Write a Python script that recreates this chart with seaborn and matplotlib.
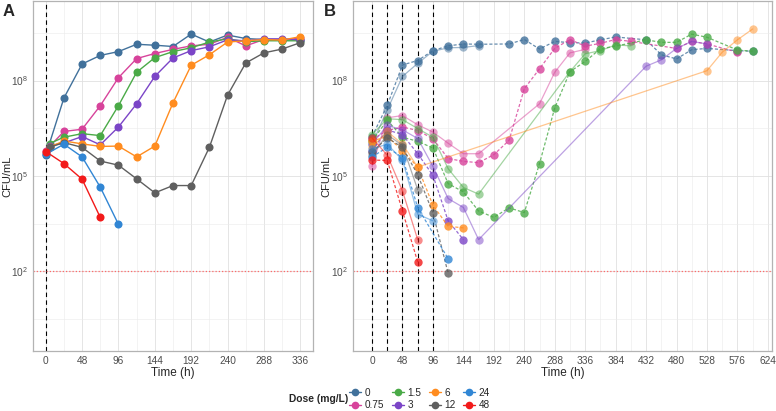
import numpy as np
import matplotlib
matplotlib.use("Agg")
import matplotlib.pyplot as plt
import seaborn as sns
from matplotlib.lines import Line2D
from matplotlib.ticker import FixedLocator, NullFormatter

# =========================
# DATA (log10 CFU/mL)
# =========================
doses = ['0', '0.75', '1.5', '3', '6', '12', '24', '48']
colors = ['#41719B', '#D7439B', '#4AAA47', '#7B45C7', '#FF8C1F', '#5F5F5F', '#3186D4', '#F21A1A']

# Panel A - single dose
a_time_full = [0, 24, 48, 72, 96, 120, 144, 168, 192, 216, 240, 264, 288, 312, 336]
a_time_late = [5, 24, 48, 72, 96, 120, 144, 168, 192, 216, 240, 264, 288, 312, 336]
a_0 = [5.65, 7.45, 8.52, 8.79, 8.91, 9.14, 9.11, 9.07, 9.46, 9.21, 9.43, 9.32, 9.29, 9.29, 9.28]
a_075 = [5.8, 6.40, 6.47, 7.21, 8.09, 8.69, 8.85, 8.98, 9.09, 9.14, 9.36, 9.09, 9.29, 9.28, 9.33]
a_15 = [6.02, 6.22, 6.33, 6.27, 7.21, 8.26, 8.72, 8.91, 9.03, 9.21, 9.31, 9.22, 9.25, 9.25, 9.25]
a_3 = [5.95, 6.04, 6.24, 5.98, 6.54, 7.27, 8.13, 8.71, 8.94, 9.06, 9.28, 9.25, 9.31, 9.31, 9.28]
a_6 = [5.91, 6.10, 6.01, 5.93, 5.94, 5.60, 5.94, 7.30, 8.48, 8.81, 9.21, 9.25, 9.29, 9.27, 9.38]
a_12 = [5.90, 6.05, 5.90, 5.47, 5.34, 4.91, 4.47, 4.70, 4.70, 5.90, 7.54, 8.55, 8.87, 8.99, 9.19]
a_24_time = [0, 24, 48, 72, 96]
a_24 = [5.68, 6.00, 5.60, 4.65, 3.48]
a_48_time = [0, 24, 48, 72]
a_48 = [5.77, 5.39, 4.90, 3.70]

# Panel B - repeated dosing, two replicates (solid / dashed)
b_0_s_t = [0, 24, 48, 72, 96, 120, 144, 168]
b_0_s = [6.0, 7.08, 8.13, 8.54, 8.92, 9.03, 9.04, 9.10]
b_0_d_t = [0, 24, 48, 72, 96, 120, 144, 168, 216, 240, 264, 288, 312, 336, 360, 384, 432, 456, 480, 504, 528, 576, 600]
b_0_d = [6.24, 7.22, 8.49, 8.63, 8.94, 9.09, 9.15, 9.14, 9.15, 9.29, 8.99, 9.23, 9.19, 9.18, 9.28, 9.37, 9.28, 8.81, 8.68, 8.97, 9.01, 8.94, 8.92]

b_075_s_t = [0, 24, 48, 72, 96, 120, 144, 168, 264, 288, 312, 336]
b_075_s = [5.30, 6.83, 6.90, 6.61, 6.38, 6.03, 5.70, 5.70, 7.27, 8.26, 8.87, 8.98]
b_075_d_t = [0, 24, 48, 72, 96, 120, 144, 168, 192, 216, 240, 264, 288, 312, 336, 360, 384, 408, 480, 504, 528, 576]
b_075_d = [6.15, 6.43, 6.54, 6.43, 6.17, 5.55, 5.46, 5.42, 5.67, 6.12, 7.74, 8.37, 9.01, 9.29, 9.08, 9.17, 9.29, 9.23, 9.01, 9.23, 9.15, 8.89]

b_15_s_t = [0, 24, 48, 72, 96, 120, 144, 168, 312, 336, 360, 384, 408]
b_15_s = [6.30, 6.80, 6.77, 6.49, 6.22, 5.23, 4.64, 4.43, 8.28, 8.84, 8.94, 9.12, 9.09]
b_15_d_t = [0, 24, 48, 72, 96, 120, 144, 168, 192, 216, 240, 264, 288, 312, 336, 360, 384, 432, 456, 480, 504, 528, 576, 600]
b_15_d = [6.10, 6.75, 6.22, 6.09, 5.88, 4.76, 4.50, 3.90, 3.70, 4.00, 3.85, 5.39, 7.14, 8.28, 8.60, 9.00, 9.08, 9.28, 9.20, 9.20, 9.46, 9.36, 8.96, 8.92]

b_3_s_t = [0, 24, 48, 72, 96, 120, 144, 168, 432, 456, 480, 504, 528]
b_3_s = [6.00, 6.59, 6.45, 6.18, 5.30, 4.29, 4.01, 3.00, 8.45, 8.65, 9.01, 9.23, 9.15]
b_3_d_t = [0, 24, 48, 72, 96, 120, 144]
b_3_d = [5.80, 6.45, 6.30, 5.70, 5.02, 3.59, 3.00]

b_6_s_t = [0, 24, 48, 72, 528, 552, 576, 600]
b_6_s = [5.90, 6.40, 6.00, 5.28, 8.31, 8.89, 9.28, 9.62]
b_6_d_t = [0, 24, 48, 72, 96, 120, 144]
b_6_d = [6.10, 6.24, 5.80, 5.28, 4.08, 3.42, 3.37]

b_12_s_t = [0, 24, 48, 72]
b_12_s = [5.65, 6.30, 5.96, 4.57]
b_12_d_t = [0, 24, 48, 72, 96, 120]
b_12_d = [5.75, 6.20, 5.90, 5.04, 3.84, 1.94]

b_24_s_t = [0, 24, 48, 72, 96]
b_24_s = [5.85, 6.00, 5.50, 3.80, 3.59]
b_24_d_t = [0, 24, 48, 72, 120]
b_24_d = [5.60, 5.90, 5.58, 4.01, 2.40]

b_48_s_t = [0, 24, 48, 72]
b_48_s = [6.20, 5.65, 4.53, 3.00]
b_48_d_t = [0, 24, 48, 72]
b_48_d = [5.50, 5.49, 3.90, 2.30]

panel_a = [
    (a_time_full, a_0), (a_time_full, a_075), (a_time_late, a_15), (a_time_late, a_3),
    (a_time_late, a_6), (a_time_late, a_12), (a_24_time, a_24), (a_48_time, a_48),
]
panel_b = [
    (b_0_s_t, b_0_s, b_0_d_t, b_0_d),
    (b_075_s_t, b_075_s, b_075_d_t, b_075_d),
    (b_15_s_t, b_15_s, b_15_d_t, b_15_d),
    (b_3_s_t, b_3_s, b_3_d_t, b_3_d),
    (b_6_s_t, b_6_s, b_6_d_t, b_6_d),
    (b_12_s_t, b_12_s, b_12_d_t, b_12_d),
    (b_24_s_t, b_24_s, b_24_d_t, b_24_d),
    (b_48_s_t, b_48_s, b_48_d_t, b_48_d),
]
dose_times_b = [0, 24, 48, 72, 96]

# =========================
# STYLE
# =========================
sns.set_style('white')
plt.rcParams['font.family'] = ['Liberation Sans', 'DejaVu Sans']

fig = plt.figure(figsize=(7.76, 4.11), dpi=100)
W, H = 776, 411
ax_a = fig.add_axes([33 / W, 60 / H, 280 / W, 350 / H])
ax_b = fig.add_axes([353 / W, 60 / H, 418.7 / W, 350 / H])


def style_axis(ax, xmax, xlim):
    ax.set_yscale('log')
    ax.set_ylim(10 ** -0.5, 10 ** 10.5)
    ax.set_xlim(*xlim)
    ax.xaxis.set_major_locator(FixedLocator(list(range(0, xmax + 1, 48))))
    ax.xaxis.set_minor_locator(FixedLocator(list(range(24, xmax + 1, 48))))
    ax.yaxis.set_major_locator(FixedLocator([1e2, 1e5, 1e8]))
    ax.yaxis.set_minor_locator(FixedLocator([10 ** 0.5, 10 ** 3.5, 10 ** 6.5, 10 ** 9.5]))
    ax.yaxis.set_minor_formatter(NullFormatter())
    ax.set_yticklabels([r'$\mathregular{10^{2}}$', r'$\mathregular{10^{5}}$', r'$\mathregular{10^{8}}$'])
    ax.grid(which='major', color='#E0E0E0', linewidth=0.6)
    ax.grid(which='minor', color='#EBEBEB', linewidth=0.4)
    ax.set_axisbelow(True)
    ax.tick_params(which='major', length=2.5, width=0.5, color='#B3B3B3',
                   labelcolor='#4D4D4D', labelsize=7.3, pad=1.0)
    ax.tick_params(which='minor', length=0)
    for sp in ax.spines.values():
        sp.set_color('#B3B3B3')
        sp.set_linewidth(0.9)
    ax.axhline(1e2, color='#FF6A6A', linestyle=(0, (1, 1.6)), linewidth=0.9, zorder=2.5)
    ax.set_xlabel('Time (h)', fontsize=8.5)
    ax.set_ylabel('CFU/mL', fontsize=8.0)


style_axis(ax_a, 336, (-16.8, 352.8))
style_axis(ax_b, 624, (-30, 630))
ax_a.xaxis.set_label_coords(0.5, -0.047)
ax_b.xaxis.set_label_coords(0.5, -0.047)
ax_a.yaxis.set_label_coords(-0.075, 0.5)
ax_b.yaxis.set_label_coords(-0.052, 0.5)

# =========================
# PANEL A
# =========================
ax_a.axvline(0, color='black', linestyle=(0, (4, 3)), linewidth=0.8, zorder=1.6)
for (t, v), c in zip(panel_a, colors):
    sns.lineplot(x=t, y=10 ** np.array(v), ax=ax_a, color=c, marker='o',
                 markersize=5.8, markeredgewidth=0, linewidth=1.0,
                 estimator=None, sort=False, zorder=3)

# =========================
# PANEL B
# =========================
for tv in dose_times_b:
    ax_b.axvline(tv, color='black', linestyle=(0, (4, 3)), linewidth=0.8, zorder=1.6)
for (ts, vs, td, vd), c in zip(panel_b, colors):
    sns.lineplot(x=ts, y=10 ** np.array(vs), ax=ax_b, color=c, marker='o',
                 markersize=6, markeredgewidth=0, linewidth=0.9, alpha=0.5,
                 estimator=None, sort=False, zorder=3)
    sns.lineplot(x=td, y=10 ** np.array(vd), ax=ax_b, color=c, marker='o',
                 markersize=6, markeredgewidth=0, linewidth=0.9, alpha=0.8,
                 linestyle=(0, (2.5, 1.6)), estimator=None, sort=False, zorder=3)

# panel tags
fig.text(3 / W, 1 - 4 / H, 'A', fontsize=12, fontweight='bold', va='top', ha='left')
fig.text(324 / W, 1 - 4 / H, 'B', fontsize=12, fontweight='bold', va='top', ha='left')

# =========================
# LEGEND
# =========================
handles = [Line2D([0], [0], color=c, marker='o', markersize=5.5, markeredgewidth=0, linewidth=1.0)
           for c in colors]
fig.legend(handles, doses, ncol=4, loc='center left', bbox_to_anchor=(349 / W, 1 - 399 / H),
           frameon=False, fontsize=7.2, handlelength=1.2, handletextpad=0.4,
           columnspacing=0.7, labelspacing=0.25, borderpad=0, borderaxespad=0)
fig.text(348 / W, 1 - 399 / H, 'Dose (mg/L)', fontsize=7.4, fontweight='bold',
         ha='right', va='center')

fig.savefig('out.png', dpi=100)
